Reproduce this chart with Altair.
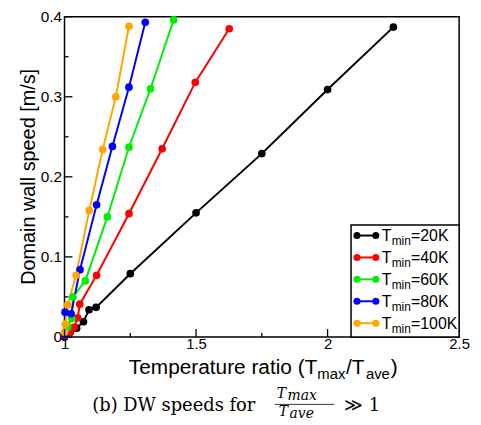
import altair as alt
import pandas as pd

# ---------------- data ----------------
series_names = ["20K", "40K", "60K", "80K", "100K"]
series_colors = ["#000000", "#ff0000", "#00ee00", "#0000ff", "#ffa500"]

ratio_20K = [1.0, 1.022, 1.046, 1.072, 1.093, 1.12, 1.25, 1.5, 1.75, 2.0, 2.25]
speed_20K = [0.0, 0.006, 0.011, 0.019, 0.034, 0.037, 0.079, 0.155, 0.229, 0.309, 0.387]

ratio_40K = [1.0, 1.02, 1.036, 1.05, 1.058, 1.122, 1.245, 1.371, 1.497, 1.626]
speed_40K = [0.002, 0.006, 0.012, 0.024, 0.041, 0.077, 0.154, 0.235, 0.318, 0.385]

ratio_60K = [1.0, 1.012, 1.028, 1.032, 1.079, 1.163, 1.245, 1.327, 1.415]
speed_60K = [0.004, 0.012, 0.023, 0.050, 0.070, 0.150, 0.237, 0.310, 0.396]

ratio_80K = [1.0, 1.002, 1.025, 1.059, 1.122, 1.182, 1.245, 1.307]
speed_80K = [0.003, 0.031, 0.029, 0.084, 0.165, 0.238, 0.312, 0.393]

ratio_100K = [1.0, 1.003, 1.012, 1.044, 1.094, 1.145, 1.195, 1.245]
speed_100K = [0.006, 0.016, 0.040, 0.077, 0.158, 0.234, 0.300, 0.388]

x_major = [1, 1.5, 2, 2.5]
x_minor = [1.25, 1.75, 2.25]
y_major = [0, 0.1, 0.2, 0.3, 0.4]
y_minor = [0.05, 0.15, 0.25, 0.35]

x_title = ["Temperature ratio (T", "max", "/T", "ave", ")"]
y_title = "Domain wall speed [m/s]"
legend_main = "T"
legend_sub = "min"
caption_left = "(b) DW speeds for"
caption_right = "\u226b 1"

# ---------------- build table ----------------
all_x = [ratio_20K, ratio_40K, ratio_60K, ratio_80K, ratio_100K]
all_y = [speed_20K, speed_40K, speed_60K, speed_80K, speed_100K]
rows = []
for k, (name, xs, ys) in enumerate(zip(series_names, all_x, all_y)):
    for a, b in zip(xs, ys):
        rows.append({"series": name, "k": k, "ratio": a, "speed": b})
df = pd.DataFrame(rows)

SANS = "Liberation Sans"
SERIF = "DejaVu Serif"
W, H = 398, 323

xscale = alt.Scale(domain=[1, 2.5], nice=False, zero=False)
yscale = alt.Scale(domain=[0, 0.4], nice=False)
color = alt.Color("series:N", scale=alt.Scale(domain=series_names, range=series_colors), legend=None)

xaxis = alt.Axis(values=x_major, format="~g", ticks=False, domain=False, grid=False, title=None,
                 labelPadding=0, labelFontSize=15, labelFont=SANS, labelColor="black",
                 labelFlush=False, labelOverlap=False)
yaxis = alt.Axis(values=y_major, format="~g", ticks=False, domain=False, grid=False, title=None,
                 labelPadding=3, labelFontSize=15.5, labelFont=SANS, labelColor="black",
                 labelFlush=False, labelOverlap=False)

base = alt.Chart(df).encode(
    x=alt.X("ratio:Q", scale=xscale, axis=xaxis),
    y=alt.Y("speed:Q", scale=yscale, axis=yaxis),
    color=color,
    detail="series:N",
)
lines = base.mark_line(strokeWidth=2)
points = base.mark_circle(size=60, opacity=1)

# inward ticks
def xticks(vals, length):
    return alt.Chart(pd.DataFrame({"ratio": vals})).mark_rule(color="black", strokeWidth=1.3).encode(
        x=alt.X("ratio:Q", scale=xscale), y=alt.value(H), y2=alt.value(H - length))

def yticks(vals, length):
    return alt.Chart(pd.DataFrame({"speed": vals})).mark_rule(color="black", strokeWidth=1.3).encode(
        y=alt.Y("speed:Q", scale=yscale), x=alt.value(0), x2=alt.value(length))

dummy = pd.DataFrame({"d": [0]})

def txt(s, x, y, size, font=SANS, align="left", baseline="alphabetic", style="normal", angle=0):
    return alt.Chart(dummy).mark_text(text=s, align=align, baseline=baseline, fontSize=size, font=font,
                                      fontStyle=style, angle=angle, color="black").encode(
        x=alt.value(x), y=alt.value(y))

layers = [lines, points,
          xticks(x_major, 8), xticks(x_minor, 4),
          yticks(y_major, 8), yticks(y_minor, 4)]

# legend
lx0, ly0, lx1, ly1 = 289, 210, 398, 323
layers.append(alt.Chart(dummy).mark_rect(fill="white", stroke="black", strokeWidth=1.5).encode(
    x=alt.value(lx0), x2=alt.value(lx1), y=alt.value(ly0), y2=alt.value(ly1)))
for i, (name, col) in enumerate(zip(series_names, series_colors)):
    yy = 220.7 + 22.1 * i
    layers.append(alt.Chart(dummy).mark_rule(color=col, strokeWidth=2).encode(
        x=alt.value(295), x2=alt.value(314), y=alt.value(yy)))
    for px in (295, 314):
        layers.append(alt.Chart(dummy).mark_circle(color=col, size=50, opacity=1).encode(
            x=alt.value(px), y=alt.value(yy)))
    layers.append(txt(legend_main, 320, yy + 5.5, 16))
    layers.append(txt(legend_sub, 330, yy + 10, 12))
    layers.append(txt("=" + name, 349.5, yy + 5.5, 16))

# axis titles
layers.append(txt(y_title, -36, H / 2, 20, align="center", baseline="middle", angle=270))
layers.append(txt(x_title[0], 255, 360, 21, align="right"))
layers.append(txt(x_title[1], 255, 365, 15))
layers.append(txt(x_title[2], 284, 360, 21))
layers.append(txt(x_title[3], 304, 365, 15))
layers.append(txt(x_title[4], 329, 360, 21))

# caption
layers.append(txt(caption_left, 28, 398, 18, font=SERIF))
layers.append(txt("T", 214, 385, 14, font=SERIF, style="italic"))
layers.append(txt("max", 225, 387, 14, font=SERIF, style="italic"))
layers.append(alt.Chart(dummy).mark_rule(color="black", strokeWidth=0.8).encode(
    x=alt.value(212), x2=alt.value(272), y=alt.value(391)))
layers.append(txt("T", 216, 403, 14, font=SERIF, style="italic"))
layers.append(txt("ave", 227, 405, 14, font=SERIF, style="italic"))
layers.append(txt(caption_right, 282, 398, 18, font=SERIF))

chart = alt.layer(*layers).properties(
    width=W, height=H,
    padding={"left": 57, "top": 7, "right": 14, "bottom": 86},
    autosize=alt.AutoSizeParams(type="none"),
).configure_view(stroke="black", strokeWidth=1.5)

chart.save("out.html", embed_options={"renderer": "svg", "actions": False})
